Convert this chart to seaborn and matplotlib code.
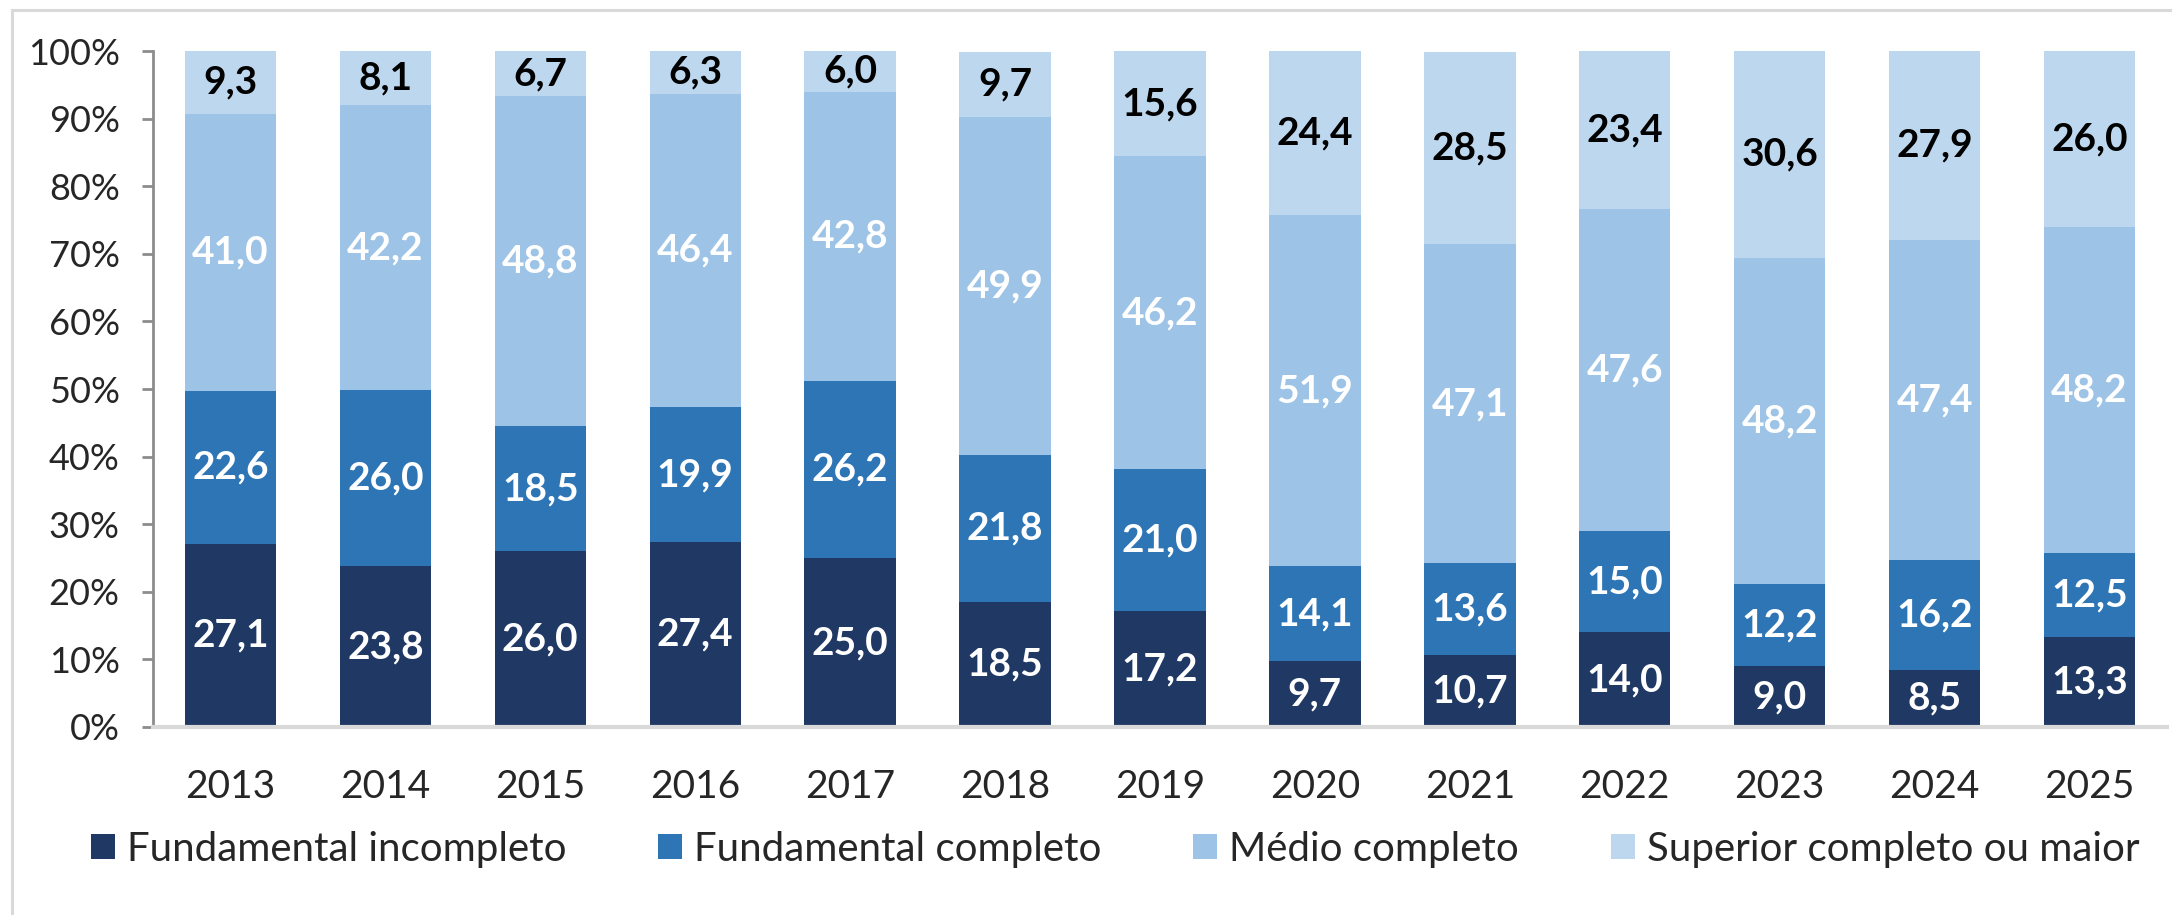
import pandas as pd
import seaborn as sns
import matplotlib.pyplot as plt
from matplotlib.patches import Patch, Rectangle

years = ['2013', '2014', '2015', '2016', '2017', '2018', '2019',
         '2020', '2021', '2022', '2023', '2024', '2025']
fund_incompleto = [27.1, 23.8, 26.0, 27.4, 25.0, 18.5, 17.2, 9.7, 10.7, 14.0, 9.0, 8.5, 13.3]
fund_completo = [22.6, 26.0, 18.5, 19.9, 26.2, 21.8, 21.0, 14.1, 13.6, 15.0, 12.2, 16.2, 12.5]
medio_completo = [41.0, 42.2, 48.8, 46.4, 42.8, 49.9, 46.2, 51.9, 47.1, 47.6, 48.2, 47.4, 48.2]
superior = [9.3, 8.1, 6.7, 6.3, 6.0, 9.7, 15.6, 24.4, 28.5, 23.4, 30.6, 27.9, 26.0]

series = ['Fundamental incompleto', 'Fundamental completo',
          'Médio completo', 'Superior completo ou maior']
colors = ['#203864', '#2E75B6', '#9DC3E6', '#BDD7EE']
label_colors = ['white', 'white', 'white', 'black']

df = pd.DataFrame({'year': years,
                   series[0]: fund_incompleto,
                   series[1]: fund_completo,
                   series[2]: medio_completo,
                   series[3]: superior})

sns.set_style('white')
plt.rcParams['font.family'] = ['Lato', 'DejaVu Sans']

fig = plt.figure(figsize=(21.72, 9.15), dpi=100)
ax = fig.add_axes([153 / 2172, 1 - 727 / 915, (2167 - 153) / 2172, 676 / 915])

# chart area border (light gray, runs off the right/bottom edge)
fig.patches.append(Rectangle((12 / 2172, -0.05), 1.1, 1 - 10 / 915 + 0.05,
                             transform=fig.transFigure, fill=False,
                             edgecolor='#D9D9D9', linewidth=2.2, zorder=0))

# stacked bars, one seaborn call per level
bottom = [0.0] * len(years)
for name, col, lcol in zip(series, colors, label_colors):
    sns.barplot(data=df, x='year', y=name, bottom=bottom, color=col,
                saturation=1, width=0.59, linewidth=0, ax=ax)
    cont = ax.containers[-1]
    ax.bar_label(cont, labels=[f'{v:.1f}'.replace('.', ',') for v in df[name]],
                 label_type='center', color=lcol, fontsize=28, fontweight='bold')
    bottom = [b + v for b, v in zip(bottom, df[name])]

ax.set_ylim(0, 100)
ax.set_xlim(-0.5, len(years) - 0.5)
ax.set_yticks(range(0, 101, 10))
ax.set_yticklabels([f'{t}%' for t in range(0, 101, 10)])
ax.set_xlabel('')
ax.set_ylabel('')

for s in ['top', 'right']:
    ax.spines[s].set_visible(False)
ax.spines['left'].set_color('#8C8C8C')
ax.spines['left'].set_linewidth(2)
ax.spines['bottom'].set_color('#D9D9D9')
ax.spines['bottom'].set_linewidth(3)
ax.tick_params(axis='y', length=8, width=2, color='#8C8C8C', pad=16,
               labelsize=26, left=True)
ax.tick_params(axis='x', length=0, pad=30, labelsize=28)

handles = [Patch(facecolor=c, edgecolor='none') for c in colors]
fig.legend(handles, series, loc='center', ncol=4, frameon=False,
           bbox_to_anchor=(0.5134, 1 - 849 / 915), fontsize=29,
           handlelength=0.6, handleheight=0.6, handletextpad=0.3,
           columnspacing=2.27)

plt.savefig('out.png', dpi=100)
plt.close()
